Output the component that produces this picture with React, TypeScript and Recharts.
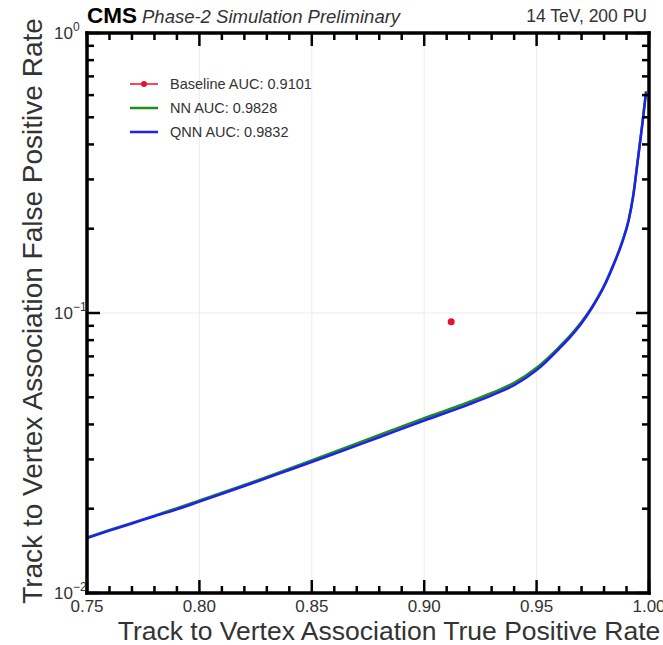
import {
  ComposedChart,
  Line,
  Scatter,
  XAxis,
  YAxis,
  ReferenceLine,
} from "recharts";

// ROC curve points (true positive rate -> false positive rate)
const tpr = [
  0.75, 0.76, 0.77, 0.78, 0.79, 0.8, 0.82, 0.84, 0.86, 0.88, 0.9, 0.92, 0.93,
  0.94, 0.95, 0.96, 0.965, 0.97, 0.975, 0.98, 0.984, 0.988, 0.991, 0.993,
  0.995, 0.997, 0.9987,
];
const nnFpr = [
  0.0158, 0.0168, 0.0178, 0.0189, 0.0201, 0.0214, 0.0243, 0.0278, 0.0319,
  0.0367, 0.0421, 0.0481, 0.0518, 0.0563, 0.0637, 0.0756, 0.0832, 0.093,
  0.1063, 0.1252, 0.148, 0.179, 0.216, 0.264, 0.352, 0.473, 0.62,
];
const qnnFpr = [
  0.0157, 0.0167, 0.0177, 0.0188, 0.0199, 0.0212, 0.0241, 0.0275, 0.0314,
  0.036, 0.0413, 0.0472, 0.0508, 0.0552, 0.0625, 0.0745, 0.0822, 0.092,
  0.1055, 0.1244, 0.147, 0.178, 0.215, 0.262, 0.35, 0.47, 0.615,
];

// single working point of the baseline algorithm
const baseline = [{ tpr: 0.912, fpr: 0.093 }];

const xTicks = [
  0.75, 0.76, 0.77, 0.78, 0.79, 0.8, 0.81, 0.82, 0.83, 0.84, 0.85, 0.86, 0.87,
  0.88, 0.89, 0.9, 0.91, 0.92, 0.93, 0.94, 0.95, 0.96, 0.97, 0.98, 0.99, 1.0,
];
const xMajor = [0.75, 0.8, 0.85, 0.9, 0.95, 1.0];
const yTicks = [
  0.01, 0.02, 0.03, 0.04, 0.05, 0.06, 0.07, 0.08, 0.09, 0.1, 0.2, 0.3, 0.4,
  0.5, 0.6, 0.7, 0.8, 0.9, 1,
];
const yMajor = [0.01, 0.1, 1];
const yMajorExp = ["\u22122", "\u22121", "0"];

const legendItems = [
  { label: "Baseline AUC: 0.9101", color: "#e8112d", dot: true },
  { label: "NN AUC: 0.9828", color: "#1e8c1e", dot: false },
  { label: "QNN AUC: 0.9832", color: "#1f1ff5", dot: false },
];

const FONT = '"Liberation Sans", Arial, Helvetica, sans-serif';
const TEXT = "#333";
const GRID = "#ececec";

const W = 663;
const H = 645;
const MARGIN = { top: 33, right: 14, bottom: 0, left: 0 };
const Y_AXIS_W = 87;
const X_AXIS_H = 52;
const X_MIN = 0.75;
const X_MAX = 1;
const Y_MIN = 0.01;
const Y_MAX = 1;
const PLOT_L = MARGIN.left + Y_AXIS_W;
const PLOT_T = MARGIN.top;
const PLOT_W = W - MARGIN.left - MARGIN.right - Y_AXIS_W;
const PLOT_H = H - MARGIN.top - MARGIN.bottom - X_AXIS_H;

const rocData = tpr.map((t, i) => ({ tpr: t, nn: nnFpr[i], qnn: qnnFpr[i] }));

const isMajorX = (v: number) => xMajor.some((m) => Math.abs(m - v) < 1e-6);
const isMajorY = (v: number) => yMajor.some((m) => Math.abs(m - v) < 1e-9);
const tickLen = (major: boolean) => (major ? 13 : 7);

// same linear / log mapping as the chart axes, for the frame tick marks
const sx = (v: number) => PLOT_L + ((v - X_MIN) / (X_MAX - X_MIN)) * PLOT_W;
const sy = (v: number) =>
  PLOT_T + PLOT_H - (Math.log10(v / Y_MIN) / Math.log10(Y_MAX / Y_MIN)) * PLOT_H;

function FrameTicks() {
  const bottom = PLOT_T + PLOT_H;
  const right = PLOT_L + PLOT_W;
  return (
    <svg
      width={W}
      height={H}
      style={{ position: "absolute", left: 0, top: 0, pointerEvents: "none" }}
    >
      {xTicks.map((v) => {
        const x = sx(v);
        const len = tickLen(isMajorX(v));
        return (
          <g key={`x${v}`}>
            <line x1={x} x2={x} y1={bottom} y2={bottom - len} stroke="#000" strokeWidth={2.5} />
            <line x1={x} x2={x} y1={PLOT_T} y2={PLOT_T + len} stroke="#000" strokeWidth={2.5} />
          </g>
        );
      })}
      {yTicks.map((v) => {
        const y = sy(v);
        const len = tickLen(isMajorY(v));
        return (
          <g key={`y${v}`}>
            <line x1={PLOT_L} x2={PLOT_L + len} y1={y} y2={y} stroke="#000" strokeWidth={2.5} />
            <line x1={right} x2={right - len} y1={y} y2={y} stroke="#000" strokeWidth={2.5} />
          </g>
        );
      })}
    </svg>
  );
}

const bottomLabel = (props: any) => {
  const v = props.payload.value;
  if (!isMajorX(v)) return <g />;
  return (
    <text x={props.x} y={Number(props.y) + 19} textAnchor="middle" fontSize={17} fontFamily={FONT} fill={TEXT}>
      {v.toFixed(2)}
    </text>
  );
};

const leftLabel = (props: any) => {
  const x = Number(props.x);
  const y = Number(props.y);
  const idx = yMajor.findIndex((m) => Math.abs(m - props.payload.value) < 1e-9);
  if (idx < 0) return <g />;
  return (
    <g>
      <text x={x - 14} y={y + 6} textAnchor="end" fontSize={17} fontFamily={FONT} fill={TEXT}>
        10
      </text>
      <text x={x - 14} y={y - 2} textAnchor="start" fontSize={12} fontFamily={FONT} fill={TEXT}>
        {yMajorExp[idx]}
      </text>
    </g>
  );
};

function Legend() {
  return (
    <div style={{ position: "absolute", left: 129, top: 72, fontFamily: FONT, fontSize: 14.5, color: TEXT }}>
      {legendItems.map((it) => (
        <div key={it.label} style={{ display: "flex", alignItems: "center", height: 24 }}>
          <svg width={41} height={10}>
            <line x1={1} x2={29} y1={5} y2={5} stroke={it.color} strokeWidth={it.dot ? 1.5 : 2.5} />
            {it.dot && <circle cx={15} cy={5} r={3} fill={it.color} />}
          </svg>
          <span>{it.label}</span>
        </div>
      ))}
    </div>
  );
}

export default function App() {
  return (
    <div style={{ position: "absolute", left: 0, top: 0, width: W, height: H, background: "#fff" }}>
      <ComposedChart width={W} height={H} data={rocData} margin={MARGIN}>
        <XAxis
          dataKey="tpr"
          type="number"
          domain={[X_MIN, X_MAX]}
          ticks={xTicks}
          interval={0}
          allowDataOverflow
          height={X_AXIS_H}
          tickSize={0}
          tickMargin={0}
          tickLine={false}
          axisLine={false}
          tick={bottomLabel}
        />
        <YAxis
          type="number"
          scale="log"
          domain={[Y_MIN, Y_MAX]}
          ticks={yTicks}
          interval={0}
          allowDataOverflow
          width={Y_AXIS_W}
          tickSize={0}
          tickMargin={0}
          tickLine={false}
          axisLine={false}
          tick={leftLabel}
        />
        {xMajor.slice(1, -1).map((v) => (
          <ReferenceLine key={`gx${v}`} x={v} stroke={GRID} strokeWidth={1} />
        ))}
        <ReferenceLine y={0.1} stroke={GRID} strokeWidth={1} />
        <Line dataKey="nn" stroke="#1e8c1e" strokeWidth={2.5} dot={false} isAnimationActive={false} type="monotone" />
        <Line dataKey="qnn" stroke="#1f1ff5" strokeWidth={2.5} dot={false} isAnimationActive={false} type="monotone" />
        <Scatter
          data={baseline}
          dataKey="fpr"
          fill="#e8112d"
          isAnimationActive={false}
          shape={(p: any) => <circle cx={p.cx} cy={p.cy} r={3.5} fill="#e8112d" />}
        />
        <ReferenceLine x={X_MIN} ifOverflow="visible" stroke="#000" strokeWidth={3.5} strokeLinecap="square" />
        <ReferenceLine x={X_MAX} ifOverflow="visible" stroke="#000" strokeWidth={3.5} strokeLinecap="square" />
        <ReferenceLine y={Y_MIN} ifOverflow="visible" stroke="#000" strokeWidth={3.5} strokeLinecap="square" />
        <ReferenceLine y={Y_MAX} ifOverflow="visible" stroke="#000" strokeWidth={3.5} strokeLinecap="square" />
      </ComposedChart>

      <FrameTicks />

      <div style={{ position: "absolute", left: 87, top: 3, fontFamily: FONT, whiteSpace: "nowrap", color: "#000" }}>
        <span style={{ fontWeight: "bold", fontSize: 22.5 }}>CMS</span>
        <span style={{ fontStyle: "italic", fontSize: 18.5, marginLeft: 5, color: "#333" }}>
          Phase-2 Simulation Preliminary
        </span>
      </div>
      <div style={{ position: "absolute", right: 16, top: 6, fontFamily: FONT, fontSize: 17.5, color: "#333" }}>
        14 TeV, 200 PU
      </div>
      <Legend />
      <div
        style={{
          position: "absolute",
          left: 389,
          top: 631,
          transform: "translate(-50%, -50%)",
          fontFamily: FONT,
          fontSize: 26.5,
          lineHeight: 1,
          color: TEXT,
          whiteSpace: "nowrap",
        }}
      >
        Track to Vertex Association True Positive Rate
      </div>
      <div
        style={{
          position: "absolute",
          left: 33,
          top: 311,
          transform: "translate(-50%, -50%) rotate(-90deg)",
          fontFamily: FONT,
          fontSize: 28,
          lineHeight: 1,
          color: TEXT,
          whiteSpace: "nowrap",
        }}
      >
        Track to Vertex Association False Positive Rate
      </div>
    </div>
  );
}
